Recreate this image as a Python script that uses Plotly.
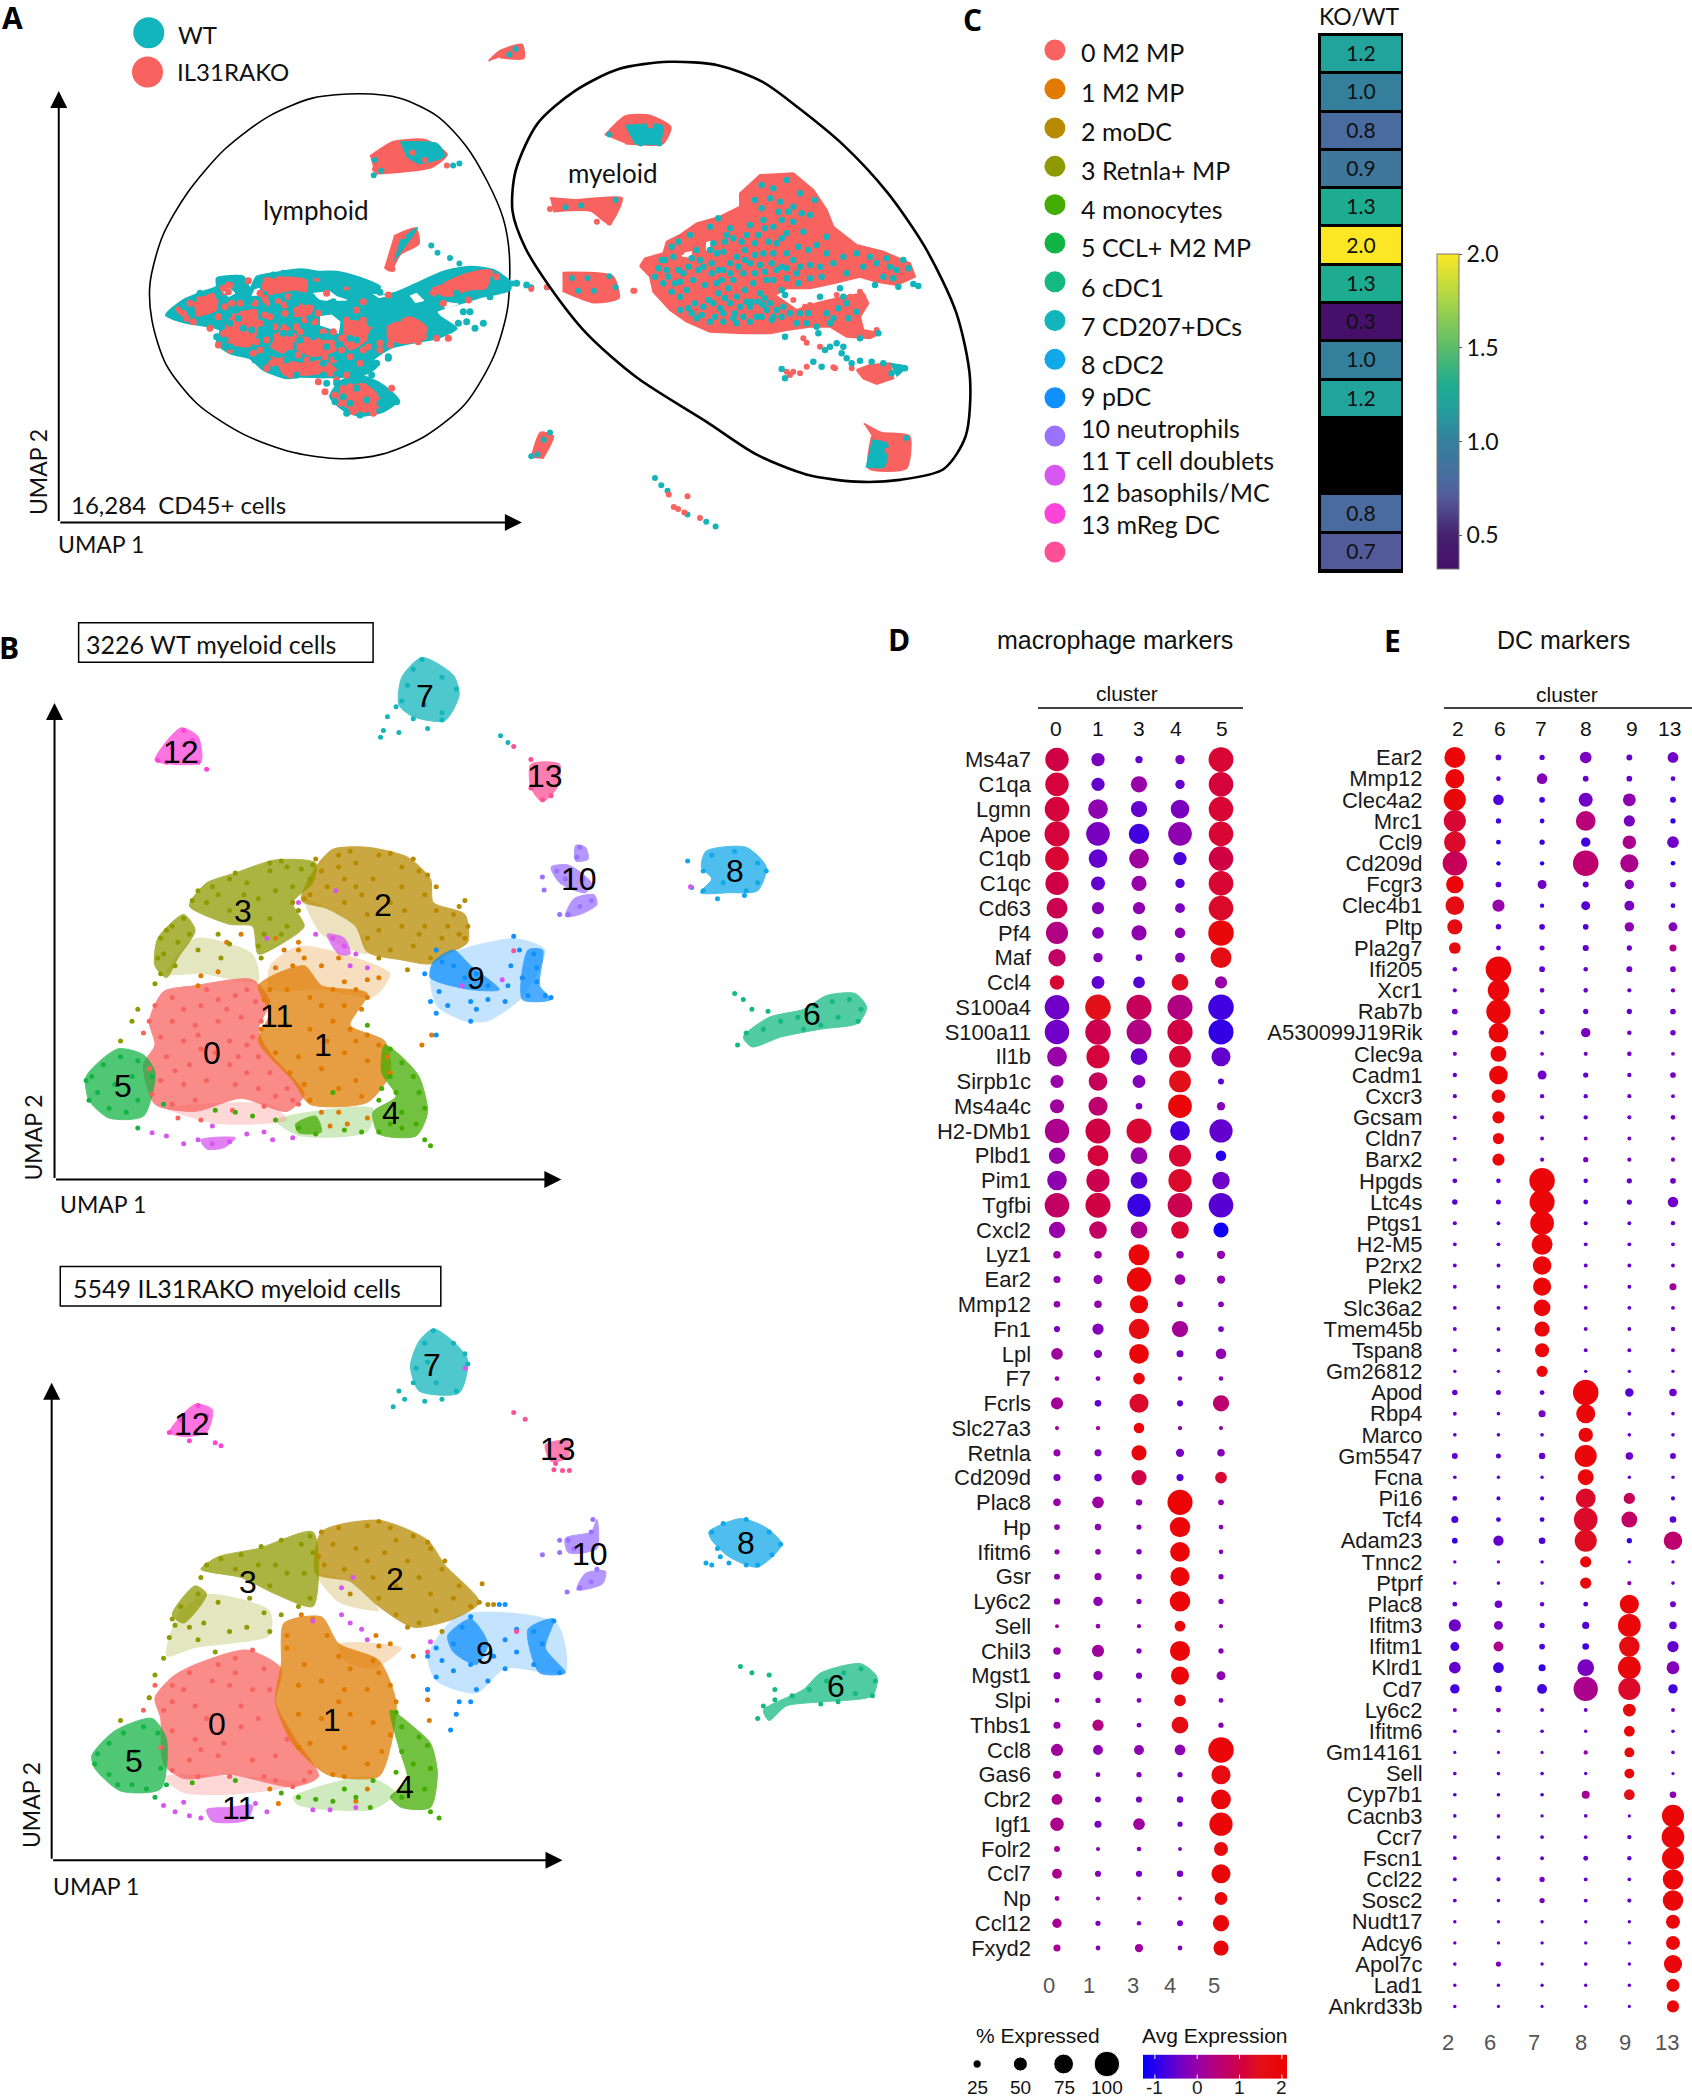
import plotly.graph_objects as go

W, H = 1692, 2100
LIB = "Liberation Sans"
LAT = "Lato"

def split(pairs):
    return [p[0] for p in pairs], [p[1] for p in pairs]

# ---------- Panel A (UMAP, read units) ----------
lymphoid_ring = [(575,258),(640,270),(700,320),(745,400),(780,500),(805,600),(815,700),(812,850),(790,980),(745,1110),(680,1200),(610,1250),(545,1262),(470,1245),(390,1195),(315,1110),(265,1000),(243,880),(240,780),(260,650),(300,530),(360,410),(430,320),(500,270),(575,258)]
myeloid_ring = [(1070,170),(1150,180),(1220,225),(1280,300),(1350,400),(1420,530),(1480,680),(1530,860),(1552,1040),(1545,1200),(1510,1290),(1440,1320),(1370,1325),(1290,1305),(1210,1250),(1130,1160),(1020,1040),(940,920),(880,790),(840,680),(820,580),(825,470),(860,340),(920,250),(990,190),(1070,170)]
ko_regions = [(592,430),(630,390),(680,385),(715,425),(690,460),(600,478),(None,None),
 (782,168),(800,140),(835,123),(838,160),(800,158),(None,None),
 (968,372),(1000,320),(1040,318),(1073,350),(1060,395),(1000,395),(None,None),
 (880,545),(920,550),(995,545),(975,615),(945,580),(885,582),(None,None),
 (900,750),(980,760),(990,820),(950,832),(900,800),(None,None),
 (850,1260),(865,1190),(885,1200),(868,1262),(None,None),
 (1382,1165),(1410,1190),(1455,1200),(1450,1288),(1390,1288),(1395,1200),(None,None),
 (630,650),(665,628),(670,670),(640,700),(625,745),(615,735)]
wt_regions = [(640,390),(700,395),(712,430),(670,450),(650,430),(None,None),
 (1000,345),(1060,345),(1055,395),(1015,395),(None,None),
 (1395,1210),(1420,1220),(1415,1285),(1385,1285),(None,None),
 (640,660),(668,625),(660,650),(630,720)]
wt_cells = [(700,695),(720,710),(735,725),(690,675),(820,780),(850,790),(875,790),(1048,1315),(1058,1335),(1068,1350),(1130,1435),(1145,1448),(1100,1415),(815,150),(825,135),(905,570),(930,565),(985,550),(940,765),(975,760),(985,790),(860,1250),(870,1210),(1450,1205),(600,440),(610,470),(598,482),(735,450),(725,455),(915,765),(925,800),(950,800),(1030,360),(975,370),(1025,395),(1055,395),(880,1190),(850,1255)]
ko_cells = [(1085,1400),(1100,1365),(1078,1395),(1095,1410),(1070,1360),(1120,1425),(1015,800),(875,790),(850,795),(955,610),(975,612),(628,740),(645,650),(715,455),(600,465),(880,575),(620,440),(660,420),(680,440),(1040,345),(990,350),(1420,1240),(1440,1265),(1400,1200)]

lymph_body = [(48,165),(100,120),(160,95),(200,80),(200,55),(280,50),(300,85),(320,50),(380,38),(450,28),(510,35),(560,35),(620,50),(690,80),(680,105),(730,100),(790,75),(880,35),(960,20),(1030,30),(1080,65),(1080,90),(990,112),(950,125),(860,155),(870,170),(920,205),(860,235),(780,250),(720,265),(670,300),(680,320),(640,345),(590,350),(520,352),(450,350),(410,355),(340,330),(300,295),(240,280),(200,250),(210,210),(150,195),(115,190),(48,165),(None,None),
 (540,410),(570,365),(620,345),(690,370),(745,420),(700,455),(630,468),(580,450),(540,410)]
lymph_ko_patches = [(225,70),(250,70),(235,100),(215,105),(None,None),(330,55),(400,50),(470,60),(470,95),(430,90),(380,100),(340,90),(None,None),(250,160),(320,150),(320,220),(300,260),(230,250),(210,220),(None,None),(400,190),(440,230),(400,280),(360,260),(None,None),(450,130),(490,140),(480,165),(430,170),(None,None),(360,290),(460,310),(520,300),(560,330),(480,345),(400,345),(None,None),(580,180),(650,190),(650,240),(600,270),(580,250),(None,None),(710,200),(780,170),(830,200),(820,240),(750,250),(710,230),(None,None),(880,70),(950,40),(1020,30),(1010,85),(960,90),(890,110),(860,100),(None,None),(570,390),(640,370),(680,400),(690,440),(620,460),(560,420),(None,None),(130,130),(190,100),(200,150),(140,170),(None,None),(440,230),(530,240),(560,270),(490,290),(440,270)]
lymph_holes = [(490,100),(540,95),(560,110),(590,120),(540,122),(505,118),(None,None),(510,170),(545,165),(570,185),(565,220),(540,205),(510,195),(None,None),(670,103),(715,107),(685,113),(None,None),(780,108),(800,100),(822,122),(795,128),(None,None),(312,90),(328,85),(328,106),(305,106),(None,None),(215,92),(238,85),(255,100),(235,110),(None,None),(875,125),(925,132),(885,147)]
lymph_ko_cells = [(120,130),(150,115),(175,125),(85,150),(110,175),(130,185),(180,205),(165,150),(205,170),(235,75),(295,62),(330,100),(345,115),(362,95),(385,125),(415,110),(445,72),(500,55),(530,100),(590,90),(640,125),(620,150),(590,180),(550,215),(520,215),(495,185),(505,160),(480,145),(440,150),(405,160),(360,170),(330,190),(300,170),(270,130),(245,130),(205,255),(240,270),(280,240),(310,280),(350,240),(380,230),(420,260),(450,215),(480,250),(510,270),(545,250),(575,270),(600,290),(630,310),(655,260),(690,270),(720,255),(745,235),(760,200),(795,215),(820,230),(860,235),(895,235),(850,100),(880,130),(905,100),(955,120),(1000,70),(1040,50),(975,55),(920,60),(715,105),(620,205),(640,180),(660,210),(505,365),(525,395),(560,360),(590,345),(725,385),(600,400),(640,440),(670,460),(610,455),(570,430),(420,345),(350,325),(470,335),(540,340),(400,300),
 (100,160),(145,145),(195,125),(225,140),(260,205),(255,225),(300,235),(345,165),(320,245),(375,200),(440,200),(465,180),(395,240),(330,270),(365,310),(445,285),(470,300),(525,290),(550,300),(575,235),(610,225),(640,270),(625,215),(690,250),(735,215),(770,225),(780,195),(805,245),(725,240),(900,70),(930,80),(960,75),(990,40),(1010,60),(1020,40),(900,90),(870,85),(855,90),(580,385),(600,380),(650,390),(675,425),(640,410),(600,415),(555,405),(620,440),(420,70),(400,85),(370,75),(345,80),(460,85),(235,95),(220,85),(350,130),(315,130),(405,135)]
lymph_wt_cells = [(70,160),(100,135),(150,100),(210,60),(260,55),(290,105),(330,60),(370,45),(400,40),(500,45),(540,45),(570,60),(600,65),(640,70),(670,80),(690,97),(630,100),(590,100),(550,125),(540,130),(500,125),(465,125),(420,130),(380,140),(340,140),(290,140),(265,175),(240,190),(215,200),(200,230),(225,240),(280,205),(305,210),(340,210),(360,200),(400,220),(370,280),(420,220),(470,200),(490,230),(520,230),(530,260),(560,290),(580,300),(620,290),(655,310),(680,310),(715,295),(600,235),(620,240),(670,215),(700,180),(735,130),(770,100),(820,135),(860,180),(880,195),(900,210),(925,190),(940,155),(960,155),(950,185),(975,205),(1000,190),(1020,110),(1060,85),(1100,70),(1130,75),(1000,100),(920,100),(840,115),(800,80),(700,135),(660,145),(690,160),(620,340),(650,360),(665,345),(715,290),(560,370),(530,370),(520,345),(620,385),(710,410),(740,425),(690,430),(650,420),(600,430),(580,410),(555,425),(590,460),(630,465),(380,330),(330,310),(440,345),(315,300),(240,260),(430,115),(260,150),(300,120),(480,175),(450,240),(410,300),(520,310),(760,120),(780,150),(745,175)]
lymph_wt_patches = [(750,150),(850,165),(915,205),(860,235),(830,190),(780,165),(None,None),(660,120),(720,115),(700,170),(660,160),(None,None),(490,40),(570,40),(610,70),(540,80),(500,65)]

mye_body = [(30,288),(45,265),(100,250),(110,215),(150,195),(200,160),(270,140),(330,110),(330,70),(390,15),(490,10),(550,60),(590,120),(610,170),(680,225),(760,245),(840,280),(855,320),(800,345),(740,335),(690,320),(610,340),(540,355),(470,355),(435,375),(500,420),(560,400),(640,380),(700,370),(715,400),(690,440),(700,480),(750,490),(720,505),(650,500),(600,470),(540,470),(470,480),(420,490),(340,490),(240,485),(170,455),(120,420),(70,365),(60,320),(30,288),(None,None),
 (680,600),(720,585),(780,580),(790,625),(740,642),(700,625),(680,600)]
mye_holes = [(165,248),(185,245),(182,262),(155,258),(None,None),(228,218),(242,214),(238,236),(228,240),(None,None),(490,378),(520,368),(595,358),(600,380),(545,390),(505,398)]
mye_wt_patch = [(780,580),(830,590),(800,620)]
mye_wt_cells = [(125,230),(145,215),(180,195),(130,260),(105,270),(85,295),(75,320),(135,340),(125,365),(150,380),(170,360),(205,300),(175,290),(190,330),(225,345),(245,310),(260,340),(235,390),(185,430),(215,435),(255,440),(280,430),(300,400),(320,380),(345,360),(370,340),(375,310),(410,330),(390,370),(360,410),(340,440),(380,440),(410,420),(440,420),(460,410),(480,430),(500,460),(530,460),(560,470),(600,460),(625,415),(650,400),(680,425),(640,380),(570,380),(465,375),(455,360),(280,245),(250,220),(265,145),(240,170),(310,205),(335,215),(320,260),(345,240),(375,220),(415,215),(440,220),(430,250),(490,270),(510,290),(540,285),(570,290),(505,230),(520,185),(490,155),(400,150),(395,45),(470,30),(420,85),(490,110),(510,70),(555,90),(395,115),(430,170),(360,165),(590,250),(650,310),(720,260),(760,320),(790,325),(820,270),(835,295),(850,342),(865,348),(735,345),(805,350),(630,355),(300,280),(280,300),(340,310),(430,330),(470,325),(505,340),(210,270),(240,240),(465,500),(600,530),(585,540),(620,520),(640,530),(635,550),(650,565),(665,580),(690,572),(725,575),(760,580),(800,595),(825,595),(785,610),(550,575),(575,590),(455,597),(465,625),(745,490),(690,505),(565,490),(365,395),(400,405),(425,450),(310,445),(270,415),
 (95,270),(110,300),(100,340),(115,320),(145,300),(150,335),(160,310),(185,265),(200,240),(220,290),(245,280),(265,300),(275,330),(295,355),(310,330),(300,310),(265,370),(250,400),(220,410),(195,400),(175,415),(150,420),(285,385),(330,410),(315,430),(350,395),(385,395),(405,385),(420,400),(395,440),(360,455),(320,460),(280,455),(240,455),(200,445),(430,440),(455,440),(510,430),(535,430),(590,430),(610,445),(655,445),(405,305),(390,285),(360,280),(325,290),(345,270),(375,255),(400,250),(425,280),(455,290),(470,250),(455,205),(470,190),(385,195),(350,195),(300,175),(285,215),(260,250),(290,195),(405,175),(455,150),(475,125),(515,130),(540,135),(445,125),(430,55),(450,95),(375,90),(535,240),(560,225),(590,200),(610,280),(640,260),(680,250),(700,290),(740,280),(770,265),(800,300),(780,290),(575,320),(540,325),(500,310),(470,295),(440,300)]
mye_ko_cells = [(10,362),(520,505),(530,518),(570,530),(615,595),(610,592),(665,595),(490,605),(510,610),(530,590),(470,605),(480,615),(700,380),(705,395),(690,365),(620,375),(540,405),(525,410),(490,390),(640,410),(660,380),(675,455),(570,435),(740,480)]

# ---------- Panel C ----------
annotation_rows = ["0 M2 MP","1 M2 MP","2 moDC","3 Retnla+ MP","4 monocytes","5 CCL+ M2 MP","6 cDC1","7 CD207+DCs","8 cDC2","9 pDC","10 neutrophils","11 T cell doublets","12 basophils/MC","13 mReg DC"]
ko_wt = [1.2,1.0,0.8,0.9,1.3,2.0,1.3,0.3,1.0,1.2,None,None,0.8,0.7]
cluster_colors = ["#f8635f","#e07b00","#b88a00","#8f9a00","#43ac00","#12b445","#14b982","#12b5bc","#10a8e8","#1090ff","#9a72ff","#d856f0","#fb45d8","#ff4f96"]
legend_dot_y = [133,236,340,442,544,646,749,852,955,1057,1159,1263,1365,1467]
legend_text_y = [139,244,349,453,555,657,763,866,967,1053,1138,1223,1308,1393]

# ---------- Panel B, WT ----------
wt_sparse = {
1:[(470,900),(520,850),(600,870),(680,920),(650,980),(560,960),(470,960),(470,900)],
3:[(290,920),(340,830),(440,870),(450,940),(350,920),(290,920)],
4:[(480,1290),(650,1260),(640,1320),(520,1330),(480,1290)],
9:[(750,900),(800,860),(900,830),(950,860),(910,980),(850,1040),(810,1040),(760,1000),(750,900)],
0:[(290,1260),(470,1250),(500,1290),(380,1300),(290,1260)],
2:[(530,730),(620,800),(640,870),(560,820),(530,730)]}
wt_outline = {
0:[(285,965),(340,950),(440,935),(470,990),(450,1060),(470,1120),(530,1225),(500,1268),(420,1235),(340,1268),(270,1250),(250,1150),(270,1100),(260,1040),(285,965)],
1:[(450,950),(530,900),(560,950),(640,970),(610,1050),(670,1090),(680,1170),(640,1245),(540,1250),(510,1190),(450,1090),(470,1020),(450,950)],
2:[(580,605),(640,600),(710,625),(750,680),(755,740),(810,770),(815,840),(780,870),(750,895),(700,885),(640,865),(620,800),(570,755),(525,735),(550,650),(580,605)],
3:[(335,730),(360,690),(410,665),(480,632),(550,640),(545,690),(510,740),(530,800),(495,840),(450,870),(440,800),(400,795),(330,750),(335,730),(None,None),(275,830),(320,770),(340,810),(310,880),(290,930),(270,900),(275,830)],
4:[(670,1100),(700,1130),(730,1180),(745,1270),(725,1330),(660,1325),(650,1270),(690,1230),(665,1170),(670,1100),(None,None),(515,1300),(550,1280),(560,1320),(520,1322),(515,1300)],
5:[(150,1180),(205,1110),(250,1125),(270,1170),(250,1280),(190,1285),(155,1240),(150,1180)],
6:[(1295,1080),(1340,1030),(1400,1010),(1440,975),(1490,970),(1510,1005),(1495,1045),(1430,1060),(1360,1080),(1310,1105),(1295,1080)],
7:[(735,120),(790,165),(800,215),(775,280),(720,270),(695,240),(700,170),(735,120)],
8:[(1230,610),(1300,600),(1335,650),(1320,710),(1270,715),(1220,715),(1240,680),(1222,650),(1230,610)],
9:[(755,890),(790,860),(820,900),(870,960),(820,960),(750,930),(755,890),(None,None),(920,860),(945,860),(940,950),(960,985),(910,985),(920,860)],
10:[(960,650),(990,645),(1030,690),(1020,715),(975,690),(960,650),(None,None),(985,775),(1000,730),(1035,720),(1040,745),(1010,770),(985,775),(None,None),(1003,595),(1020,600),(1025,630),(1003,635),(1003,595)],
11:[(350,1340),(410,1335),(390,1360),(360,1363),(350,1340),(None,None),(570,820),(600,830),(610,870),(590,870),(570,820)],
12:[(270,380),(315,298),(345,320),(350,385),(300,390),(270,380)],
13:[(925,390),(975,390),(970,450),(945,485),(925,450),(925,390)]}
wt_points = {
0:[(300,980),(320,1010),(350,1000),(380,985),(410,975),(430,960),(300,1040),(340,1050),(380,1040),(420,1030),(280,1080),(320,1090),(350,1110),(400,1090),(430,1100),(290,1130),(330,1150),(400,1150),(430,1170),(280,1190),(320,1200),(360,1190),(410,1200),(450,1210),(480,1230),(300,1250),(340,1240),(260,1040),(250,1070),(310,1285),(350,1290),(405,1265),(510,1240),(270,1000),(360,960),(445,990),(455,1040),(440,1080),(450,1130),(470,1170),(500,1210),(520,1250),(260,1160),(265,1225),(375,1120),(305,1165),(345,1075),(395,1010),(415,1130),(460,1255)],
1:[(480,905),(510,900),(530,880),(495,860),(520,860),(560,900),(590,880),(640,935),(660,930),(620,960),(600,1000),(630,1010),(580,1040),(610,1060),(640,1075),(660,1100),(500,960),(540,980),(470,960),(500,1050),(540,1060),(480,1120),(520,1130),(600,1120),(640,1140),(560,1160),(530,1200),(590,1210),(630,1230),(590,1270),(605,1300),(640,1285),(735,1100),(752,1075),(575,1305),(350,925),(345,950),(380,915),(395,840),(420,820),(480,830),(520,840),(460,985),(560,1000),(580,960),(640,980),(570,1090),(620,1090),(675,1130),(680,1170),(540,1240),(560,1270),(620,1190),(505,1170),(455,1060),(600,940)],
2:[(590,620),(620,640),(660,620),(700,650),(730,660),(600,680),(650,680),(700,700),(740,720),(570,700),(630,720),(680,740),(760,760),(790,770),(810,735),(780,800),(800,820),(740,800),(700,800),(660,810),(640,830),(720,850),(760,860),(680,860),(750,880),(710,910),(660,880),(540,720),(550,630),(730,820),(610,610),(680,615),(720,630),(745,670),(560,660),(590,650),(620,700),(760,700),(800,750),(815,800),(810,830),(770,830),(640,770),(600,740),(530,730),(705,760)],
3:[(345,710),(370,700),(400,680),(430,690),(470,660),(500,650),(525,655),(360,740),(400,760),(450,730),(480,710),(510,700),(470,780),(500,800),(460,820),(450,850),(455,880),(280,830),(300,800),(320,780),(330,820),(285,870),(305,900),(280,920),(270,945),(385,880),(400,845),(380,820),(345,860),(240,1010),(230,1040),(210,1090),(470,640),(520,760),(335,735),(410,665),(490,635),(545,645),(540,680),(425,720),(380,720),(510,740),(490,820),(275,880),(290,810),(310,840)],
4:[(680,1110),(700,1145),(720,1180),(680,1180),(690,1220),(730,1220),(740,1260),(660,1240),(700,1310),(740,1340),(750,1355),(630,1320),(600,1315),(550,1325),(520,1310),(580,1220),(480,1290),(440,1280),(375,1265),(410,1270),(640,1050),(660,1320),(700,1270),(725,1300),(680,1300),(665,1210)],
5:[(160,1180),(180,1150),(210,1130),(240,1140),(170,1220),(200,1200),(230,1180),(190,1260),(220,1270),(240,1240),(265,1180),(155,1240),(240,1310),(285,1250),(150,1190)],
6:[(1280,970),(1295,985),(1310,1010),(1338,1015),(1285,1100),(1300,1070),(1330,1060),(1360,1040),(1390,1030),(1420,1000),(1450,990),(1480,985),(1500,1010),(1460,1030),(1430,1050),(1495,1040),(1400,1060)],
7:[(735,125),(720,150),(770,170),(795,200),(710,190),(700,230),(740,240),(770,260),(690,245),(675,270),(668,305),(663,322),(695,310),(745,300),(770,278),(720,275),(872,318),(885,335)],
8:[(1198,635),(1240,620),(1280,610),(1320,640),(1335,660),(1225,660),(1260,690),(1300,710),(1320,690),(1225,710),(1205,702),(1250,730),(1297,722)],
9:[(895,825),(905,860),(760,860),(770,890),(740,920),(790,900),(810,930),(830,920),(850,950),(890,900),(885,950),(910,930),(930,870),(935,905),(935,940),(920,975),(950,975),(960,980),(765,965),(750,990),(760,1020),(780,1000),(820,990),(850,985),(830,1010),(820,1040),(760,1075),(880,990)],
10:[(1010,600),(1005,625),(970,660),(985,680),(1015,680),(990,770),(1010,750),(1030,735),(975,770),(948,708),(945,675)],
11:[(265,1322),(290,1330),(320,1350),(345,1340),(370,1350),(400,1345),(430,1325),(460,1320),(475,1340),(510,1335),(370,1305),(580,830),(600,850),(620,870),(640,905),(610,900),(550,820),(520,740),(585,710),(465,830),(805,950),(875,935),(1203,700)],
12:[(320,305),(300,350),(275,380),(335,330),(345,385),(360,403),(290,385)],
13:[(925,378),(895,345),(945,480),(925,450),(960,470),(895,862)]}
wt_labels = [(370,1120),(562,1100),(667,745),(423,760),(682,1272),(215,1205),(1415,1022),(741,218),(1280,660),(829,930),(1008,680),(481,1027),(315,360),(950,420)]

# ---------- Panel B, KO ----------
ko_sparse = {
1:[(590,950),(700,960),(650,1010),(600,990),(590,950)],
3:[(290,980),(310,880),(360,830),(470,870),(470,930),(400,950),(340,960),(290,980)],
9:[(745,980),(800,880),(970,900),(985,1020),(880,1010),(830,1070),(760,1040),(745,980)],
4:[(510,1320),(640,1270),(690,1310),(650,1350),(520,1340),(510,1320)],
0:[(285,1270),(530,1285),(440,1310),(320,1310),(285,1270)],
2:[(550,780),(620,810),(660,870),(590,850),(550,780)]}
ko_outline = {
0:[(270,1080),(300,1030),(340,1000),(430,965),(490,1010),(480,1090),(510,1170),(555,1270),(510,1295),(400,1265),(320,1275),(285,1240),(280,1130),(270,1080)],
1:[(495,900),(560,885),(590,950),(660,990),(690,1090),(680,1200),(660,1270),(570,1265),(510,1190),(480,1090),(490,1000),(495,900)],
2:[(560,680),(660,652),(745,700),(775,760),(835,850),(790,890),(720,910),(660,860),(610,800),(550,780),(560,680)],
3:[(350,770),(380,740),(450,720),(545,680),(555,770),(545,860),(480,830),(420,790),(350,770),(None,None),(300,880),(340,810),(360,830),(320,900),(300,880)],
4:[(680,1110),(720,1150),(750,1190),(762,1260),(750,1345),(700,1345),(680,1320),(710,1280),(695,1200),(680,1110)],
5:[(160,1220),(200,1160),(265,1130),(290,1180),(280,1300),(210,1305),(165,1250),(160,1220)],
6:[(1330,1110),(1400,1060),(1430,1020),(1500,998),(1528,1030),(1520,1075),(1430,1090),(1370,1100),(1340,1135),(1330,1110)],
7:[(755,190),(785,215),(815,265),(800,345),(730,340),(715,280),(730,220),(755,190)],
8:[(1235,680),(1290,648),(1335,670),(1362,710),(1320,765),(1270,740),(1240,700),(1235,680)],
9:[(780,930),(820,890),(850,950),(830,1000),(790,970),(780,930),(None,None),(920,915),(965,890),(950,960),(985,1020),(940,1020),(920,915)],
10:[(1030,680),(1040,650),(1040,720),(990,730),(985,695),(1030,680),(None,None),(1005,820),(1020,780),(1055,775),(1050,805),(1005,820)],
11:[(360,1350),(400,1345),(440,1340),(430,1375),(370,1378),(360,1350)],
12:[(295,440),(340,372),(370,385),(360,440),(320,450),(295,440)],
13:[(950,470),(990,460),(990,500),(960,510),(950,470)]}
ko_points = {
0:[(440,965),(410,985),(380,1000),(330,1020),(300,1050),(270,1050),(260,1080),(250,1110),(300,1090),(340,1100),(400,1050),(440,1060),(460,1010),(450,1130),(420,1150),(340,1180),(300,1160),(330,1230),(380,1220),(440,1230),(480,1220),(530,1280),(510,1295),(300,1255),(345,1270),(400,1270),(460,1270),(420,1100),(285,1110),(320,1060),(370,1040),(410,1020),(360,1130),(390,1190),(470,1060),(500,1180),(540,1260),(280,1200),(350,1205),(480,1280)],
1:[(525,880),(545,890),(500,930),(570,930),(590,980),(610,1010),(650,990),(660,1020),(680,1050),(690,1090),(640,1060),(600,1060),(560,1040),(520,1050),(610,1120),(560,1130),(520,1120),(650,1140),(600,1200),(540,1190),(640,1240),(600,1270),(580,1265),(720,980),(745,1060),(745,1085),(748,1135),(660,955),(640,1300),(655,930),(680,950),(620,1330),(485,1335),(470,1300),(500,960),(530,1000),(590,1090),(680,1170),(665,1210),(520,1200)],
2:[(590,670),(640,665),(680,670),(720,690),(750,720),(580,710),(620,720),(670,730),(710,750),(565,760),(600,770),(650,790),(690,810),(730,790),(770,770),(800,810),(820,860),(790,840),(840,805),(760,870),(730,900),(690,880),(750,830),(660,840),(610,830),(850,855),(860,855),(770,920),(710,910),(560,680),(660,655),(745,705),(775,750),(835,850),(555,740),(690,700),(640,750)],
3:[(360,760),(385,745),(420,735),(455,715),(490,700),(540,690),(525,710),(450,760),(500,780),(530,780),(470,810),(540,840),(490,880),(460,875),(430,910),(400,920),(470,920),(435,840),(380,850),(345,830),(315,860),(305,905),(330,910),(295,935),(285,985),(345,940),(375,970),(355,900),(270,1025),(260,1080),(210,1135),(520,860),(350,790),(410,770),(480,760),(545,730),(300,890)],
4:[(690,1115),(700,1150),(730,1175),(745,1195),(700,1210),(720,1240),(690,1260),(750,1250),(740,1300),(700,1320),(765,1370),(750,1355),(645,1345),(620,1320),(580,1330),(550,1325),(520,1320),(490,1310),(650,1280),(600,1300),(410,1280),(335,1285)],
5:[(170,1215),(190,1190),(215,1165),(250,1150),(275,1165),(165,1240),(190,1265),(205,1290),(230,1290),(255,1300),(270,1320),(290,1290),(235,1210),(280,1250)],
6:[(1290,1005),(1310,1020),(1340,1025),(1350,1060),(1330,1100),(1320,1130),(1350,1085),(1380,1075),(1410,1060),(1440,1040),(1470,1020),(1500,1010),(1525,1040),(1520,1075),(1490,1070),(1430,1095),(1460,1090)],
7:[(755,195),(740,225),(790,225),(810,250),(815,275),(725,285),(720,320),(695,340),(685,378),(705,360),(740,365),(770,360),(795,340),(760,320),(745,270)],
8:[(1240,680),(1260,660),(1300,650),(1340,680),(1360,710),(1345,735),(1320,760),(1300,760),(1270,755),(1240,760),(1230,755),(1250,720),(1255,740)],
9:[(820,885),(805,910),(790,950),(760,960),(745,980),(770,990),(790,1015),(760,1030),(745,1060),(820,1000),(860,980),(900,970),(880,1010),(880,940),(900,915),(930,920),(965,895),(945,950),(930,1000),(975,1020),(850,1040),(830,1060),(800,1090),(795,1120),(785,1158),(870,855),(880,855),(820,1090)],
10:[(1033,650),(1030,680),(990,700),(975,730),(1000,720),(1040,770),(1030,800),(1010,815),(988,825),(945,735),(975,700)],
11:[(285,1340),(305,1355),(330,1365),(350,1370),(320,1332),(445,1335),(465,1355),(545,1350),(575,1350),(620,1345),(595,880),(610,900),(630,915),(640,940),(615,790),(595,815),(545,895),(750,945),(810,285)],
12:[(345,375),(315,410),(295,440),(360,400),(375,465),(385,472),(330,460)],
13:[(895,392),(915,408),(965,530),(980,532),(992,532),(968,515),(900,920),(745,970)]}
ko_labels = [(378,1143),(579,1133),(689,793),(432,800),(706,1295),(233,1232),(1456,1052),(753,278),(1300,707),(845,973),(1028,733),(415,1345),(335,420),(972,480)]

# ---------- Panel D ----------
d_clusters = ["0","1","3","4","5"]
d_genes = ["Ms4a7","C1qa","Lgmn","Apoe","C1qb","C1qc","Cd63","Pf4","Maf","Ccl4","S100a4","S100a11","Il1b","Sirpb1c","Ms4a4c","H2-DMb1","Plbd1","Pim1","Tgfbi","Cxcl2","Lyz1","Ear2","Mmp12","Fn1","Lpl","F7","Fcrls","Slc27a3","Retnla","Cd209d","Plac8","Hp","Ifitm6","Gsr","Ly6c2","Sell","Chil3","Mgst1","Slpi","Thbs1","Ccl8","Gas6","Cbr2","Igf1","Folr2","Ccl7","Np","Ccl12","Fxyd2"]
d_pct = [[91,47,21,30,97],[91,47,60,30,96],[96,75,60,70,96],[98,92,78,92,96],[92,70,75,47,96],[90,50,55,30,96],[80,42,42,32,96],[85,40,55,35,100],[65,30,18,32,80],[52,45,40,62,42],
[96,100,98,98,100],[96,100,97,99,98],[75,90,62,84,72],[46,70,45,84,15],[50,72,18,92,25],[95,98,98,75,90],[60,80,62,85,35],[74,90,62,90,65],[96,98,90,96,96],[60,66,62,66,55],
[22,22,80,22,25],[20,28,95,35,25],[18,22,68,15,14],[16,38,78,60,14],[40,25,75,20,35],[10,10,40,9,9],[42,18,72,16,60],[7,8,35,8,7],[20,20,55,25,22],[20,22,55,20,40],
[22,40,17,98,14],[14,18,12,78,10],[12,14,13,75,9],[15,20,14,72,12],[17,30,12,78,12],[6,9,7,36,7],[22,42,12,76,12],[20,30,16,68,28],[10,12,10,40,10],[20,38,10,62,12],
[42,32,32,36,100],[24,10,12,12,72],[36,15,16,17,75],[48,20,40,12,90],[15,7,9,6,50],[32,16,16,17,72],[10,7,6,6,45],[30,12,9,15,60],[20,10,25,10,55]]
d_expr = [[1.0,-.3,-.5,-.3,1.2],[1.1,-.5,0,-.5,1.1],[1.1,-.1,-.5,-.3,1.2],[1.1,-.3,-.8,-.1,1.2],[1.2,-.5,.1,-.7,1.0],[1.0,-.5,0,-.6,1.2],[.9,-.2,-.1,-.3,1.3],[.4,-.2,-.1,-.1,1.8],[.7,-.2,-.4,-.2,1.6],[1.2,-.5,-.6,1.4,0],
[-.4,1.5,.8,.4,-.8],[-.4,.9,.4,1.0,-.9],[0,1.1,-.5,1.2,-.5],[0,.8,-.2,1.5,-.6],[.1,.6,-.3,1.9,-.2],[.3,1.0,1.2,-.8,-.5],[0,1.1,0,1.2,-1.0],[-.1,.9,-.6,1.3,-.4],[.7,1.0,-.85,.9,-.6],[0,.7,.3,1.2,-1.15],
[0,0,1.9,-.1,-.1],[-.1,-.1,1.9,0,-.1],[-.1,-.05,1.9,-.2,-.2],[-.3,-.2,1.6,.2,-.3],[.1,-.2,1.9,-.3,-.1],[0,-.2,1.9,-.2,-.2],[.2,-.5,1.3,-.5,.6],[.2,.1,1.9,-.1,-.1],[-.05,-.2,1.8,-.3,-.2],[-.3,-.4,1.0,-.6,1.2],
[0,.1,-.1,2,-.1],[-.1,-.1,-.2,1.9,-.2],[-.1,-.1,-.2,1.9,-.2],[-.1,-.1,-.2,1.9,-.2],[-.1,-.1,-.2,1.9,-.2],[.1,-.1,-.1,1.9,-.1],[0,.1,-.2,1.9,-.2],[-.2,-.1,-.3,1.9,-.1],[-.1,-.1,-.2,1.7,-.2],[0,.4,-.2,1.6,-.2],
[.1,-.1,-.1,-.1,1.9],[.2,-.2,-.2,-.3,1.7],[.3,-.3,-.3,-.4,1.8],[.3,-.3,.1,-.4,1.9],[.2,-.2,-.2,-.2,1.7],[.3,-.2,-.3,-.3,1.8],[.1,-.1,-.1,-.1,1.8],[.2,-.2,-.2,-.3,1.8],[.2,-.2,.1,-.2,1.8]]

# ---------- Panel E ----------
e_clusters = ["2","6","7","8","9","13"]
e_genes = ["Ear2","Mmp12","Clec4a2","Mrc1","Ccl9","Cd209d","Fcgr3","Clec4b1","Pltp","Pla2g7","Ifi205","Xcr1","Rab7b","A530099J19Rik","Clec9a","Cadm1","Cxcr3","Gcsam","Cldn7","Barx2","Hpgds","Ltc4s","Ptgs1","H2-M5","P2rx2","Plek2","Slc36a2","Tmem45b","Tspan8","Gm26812","Apod","Rbp4","Marco","Gm5547","Fcna","Pi16","Tcf4","Adam23","Tnnc2","Ptprf","Plac8","Ifitm3","Ifitm1","Klrd1","Cd7","Ly6c2","Ifitm6","Gm14161","Sell","Cyp7b1","Cacnb3","Ccr7","Fscn1","Ccl22","Sosc2","Nudt17","Adcy6","Apol7c","Lad1","Ankrd33b"]
e_pct = [[80,14,12,40,15,36],[72,9,35,14,14,10],[85,35,14,50,45,15],[85,12,10,75,38,12],[82,10,12,30,48,40],[95,8,8,100,68,9],[65,14,28,15,30,14],[70,42,8,28,32,10],[55,13,14,14,30,28],[40,10,11,16,12,20],
[9,100,14,9,15,14],[7,82,9,9,7,8],[14,95,12,12,12,14],[12,75,7,30,9,13],[7,58,6,7,9,6],[8,70,28,12,8,14],[7,48,8,8,7,6],[6,42,7,8,7,9],[5,38,6,6,6,6],[6,42,7,12,7,7],
[10,9,100,9,12,14],[13,11,98,10,12,35],[7,6,92,7,6,8],[6,6,80,6,6,6],[6,6,70,6,6,6],[6,6,68,6,6,20],[6,6,62,6,6,6],[6,6,55,6,6,8],[6,6,50,6,6,6],[4,4,38,4,4,4],
[13,11,10,100,26,22],[6,5,20,72,6,5],[5,5,5,52,5,5],[15,11,17,85,22,15],[5,4,4,58,4,4],[10,7,7,75,38,7],[20,10,10,92,58,18],[14,34,18,85,12,70],[4,4,4,38,4,4],[5,5,5,38,8,5],
[10,22,8,10,72,15],[42,28,12,20,88,22],[28,32,14,18,78,38],[40,36,20,62,88,45],[30,18,32,95,85,30],[7,10,6,6,45,6],[5,5,5,4,36,5],[3,3,3,8,32,5],[5,5,5,4,32,3],[5,5,5,24,36,18],
[5,5,4,5,3,85],[6,5,6,6,8,88],[6,6,6,10,8,85],[6,7,12,6,5,78],[6,5,12,6,7,78],[4,4,4,4,4,50],[4,4,4,4,4,50],[5,12,4,5,4,68],[4,4,4,4,4,46],[4,3,3,3,3,42]]
e_expr = [[1.9,-.6,-.6,-.3,-.5,-.4],[1.9,-.6,-.2,-.5,-.5,-.5],[1.8,-.7,-.8,-.4,-.1,-.7],[1.2,-.8,-.8,.5,-.3,-.9],[1.3,-.9,-.8,-.8,.3,-.4],[.8,-1.1,-1.1,.6,.3,-1.1],[1.9,-.6,-.4,-.6,-.2,-.5],[1.6,0,-.8,-.6,-.3,-.7],[1.7,-.6,-.6,-.7,-.1,-.2],[1.7,-.5,-.5,-.5,-.4,.4],
[-.4,1.9,-.5,-.5,-.4,-.3],[-.4,1.9,-.5,-.5,-.5,-.3],[-.4,1.9,-.5,-.5,-.5,-.4],[-.5,1.9,-.5,-.3,-.4,-.4],[-.3,1.9,-.3,-.3,-.3,-.3],[-.5,1.9,-.4,-.5,-.4,-.3],[-.5,1.8,-.4,-.5,-.4,-.4],[-.4,1.9,-.5,-.5,-.4,-.4],[-.4,1.9,-.4,-.4,-.4,-.3],[-.4,1.9,-.3,-.3,-.4,-.3],
[-.5,-.6,1.9,-.6,-.5,-.4],[-.6,-.6,1.9,-.6,-.5,-.4],[-.5,-.6,1.9,-.6,-.5,-.5],[-.5,-.5,1.9,-.5,-.5,-.5],[-.5,-.5,1.9,-.5,-.5,-.5],[-.5,-.5,1.9,-.5,-.5,.1],[-.5,-.5,1.9,-.5,-.5,-.5],[-.5,-.5,1.9,-.5,-.5,-.4],[-.5,-.5,1.9,-.5,-.5,-.5],[-.5,-.5,1.9,-.5,-.5,-.5],
[-.5,-.5,-.5,1.9,-.6,-.4],[-.5,-.5,-.3,1.9,-.5,-.5],[-.5,-.5,-.5,1.9,-.5,-.5],[-.5,-.5,-.5,1.9,-.4,-.5],[-.5,-.5,-.5,1.9,-.5,-.5],[-.6,-.6,-.6,1.3,.8,-.7],[-.7,-.7,-.7,1.3,.7,-.6],[-.9,-.5,-.7,1.4,-.9,.6],[-.5,-.3,-.5,1.9,-.5,-.5],[-.5,-.5,-.5,1.8,-.1,-.5],
[-.5,-.4,-.5,-.6,1.9,-.4],[-.4,-.3,-.6,-.6,1.9,-.5],[-.7,.3,-.7,-.8,1.7,-.5],[-.5,-.8,-.9,-.3,1.8,-.2],[-.8,-.8,-.8,.3,1.3,-.8],[-.4,-.3,-.5,-.5,1.8,-.5],[-.5,-.5,-.5,-.5,1.9,-.5],[-.5,-.5,-.5,0,1.8,-.4],[-.5,-.5,-.5,-.5,1.8,-.5],[-.7,-.7,-.8,.2,1.5,-.1],
[-.5,-.5,-.5,-.5,-.5,1.9],[-.5,-.5,-.5,-.5,-.5,1.9],[-.5,-.5,-.5,-.5,-.5,1.9],[-.5,-.5,-.3,-.5,-.5,1.9],[-.5,-.5,-.3,-.5,-.5,1.9],[-.5,-.5,-.5,-.5,-.5,1.9],[-.5,-.5,-.5,-.5,-.5,1.9],[-.5,-.2,-.5,-.5,-.5,1.9],[-.5,-.5,-.5,-.5,-.5,1.9],[-.5,-.5,-.5,-.5,-.5,1.9]]

pct_legend = [25,50,75,100]
expr_ticks = [-1,0,1,2]
expr_tick_text = ["-1","0","1","2"]

# ---------- helpers ----------
def dom_x(a, b): return [a/W, b/W]
def dom_y(a, b): return [1-b/H, 1-a/H]
def size_of(p): return 2.5 + 0.23*p

EXPR_MIN, EXPR_MAX = -1.28, 2.12
expr_stops = [(-1.28,"#0000ff"),(-.8,"#4000e0"),(-.4,"#7000c8"),(0,"#9800a8"),(.5,"#b80078"),(1.0,"#d00045"),(1.5,"#e21018"),(2.12,"#ee0000")]
expr_scale = [[(v-EXPR_MIN)/(EXPR_MAX-EXPR_MIN), c] for v,c in expr_stops]
ratio_stops = [(.32,"#46106a"),(.5,"#45206f"),(.7,"#535a9a"),(.8,"#4a6ba0"),(.9,"#3f769c"),(1.0,"#34809c"),(1.2,"#22a39c"),(1.3,"#1eac90"),(1.5,"#5bbb6a"),(1.75,"#a8d548"),(2.0,"#fde725")]
ratio_scale = [[(v-.32)/(2-.32), c] for v,c in ratio_stops]

fig = go.Figure()
annos, shapes = [], []

def blank(x, y, xr=None, yr=None):
    ax = dict(domain=x, visible=False, fixedrange=True, showgrid=False, zeroline=False)
    ay = dict(domain=y, visible=False, fixedrange=True, showgrid=False, zeroline=False)
    if xr: ax["range"] = xr
    if yr: ay["range"] = yr
    return ax, ay

def txt(xa, ya, x, y, t, size=22, font=LAT, color="#111", anchor="center", angle=0, bold=False):
    annos.append(dict(xref=xa, yref=ya, x=x, y=y, text=("<b>%s</b>"%t if bold else t), showarrow=False,
        font=dict(family=font, size=size, color=color), xanchor=anchor, yanchor="middle", textangle=angle))

def arrow(xa, ya, x0, y0, x1, y1):
    annos.append(dict(xref=xa, yref=ya, axref=xa, ayref=ya, x=x1, y=y1, ax=x0, ay=y0, text="", showarrow=True,
        arrowhead=2, arrowsize=1.7, arrowwidth=2, arrowcolor="black"))

R = [0, 1568]; RY = [1568, 0]
layout = {}
layout["xaxis"], layout["yaxis"] = blank(dom_x(0,980), dom_y(0,570), R, RY)
layout["xaxis2"], layout["yaxis2"] = blank(dom_x(980,1692), dom_y(0,590), R, RY)
layout["xaxis4"], layout["yaxis4"] = blank(dom_x(0,900), dom_y(610,1230), R, RY)
layout["xaxis5"], layout["yaxis5"] = blank(dom_x(0,900), dom_y(1250,1900), R, RY)
layout["xaxis9"], layout["yaxis9"] = blank(dom_x(150,530), dom_y(260,430), [0,1140], [510,0])
layout["xaxis10"], layout["yaxis10"] = blank(dom_x(630,930), dom_y(170,400), [0,900], [690,0])

KO_C, WT_C = "#f8635f", "#12b5bc"
def poly(pairs, col, xa, ya, lw=2, smooth=True):
    x,y = split(pairs)
    fig.add_trace(go.Scatter(x=x,y=y,mode="lines",fill="toself",fillcolor=col,
        line=dict(color=col,width=lw,shape="spline" if smooth else "linear",smoothing=.6),xaxis=xa,yaxis=ya,hoverinfo="skip"))
def pts(pairs, col, xa, ya, size):
    x,y = split(pairs)
    fig.add_trace(go.Scatter(x=x,y=y,mode="markers",marker=dict(size=size,color=col,opacity=1),xaxis=xa,yaxis=ya,hoverinfo="skip"))

# Panel A
poly(lymph_body,WT_C,"x9","y9")
poly(lymph_ko_patches,KO_C,"x9","y9",1)
poly(lymph_wt_patches,WT_C,"x9","y9",1)
poly(lymph_holes,"white","x9","y9",1,False)
pts(lymph_ko_cells,KO_C,"x9","y9",7)
pts(lymph_wt_cells,WT_C,"x9","y9",7)
poly(mye_body,KO_C,"x10","y10",2,False)
poly(mye_wt_patch,WT_C,"x10","y10",1)
poly(mye_holes,"white","x10","y10",1,False)
pts(mye_ko_cells,KO_C,"x10","y10",6)
pts(mye_wt_cells,WT_C,"x10","y10",6.5)
poly(ko_regions,KO_C,"x","y")
poly(wt_regions,WT_C,"x","y",1)
pts(wt_cells,WT_C,"x","y",6)
pts(ko_cells,KO_C,"x","y",6)
for ring,w in ((lymphoid_ring,1.6),(myeloid_ring,2.6)):
    x,y = split(ring)
    fig.add_trace(go.Scatter(x=x,y=y,mode="lines",line=dict(color="black",width=w,shape="spline",smoothing=0.8),xaxis="x",yaxis="y",hoverinfo="skip"))
fig.add_trace(go.Scatter(x=[238,236],y=[90,198],mode="markers",marker=dict(size=31,color=[WT_C,KO_C],opacity=1),xaxis="x",yaxis="y",hoverinfo="skip"))
txt("x","y",282,95,"WT",24,anchor="left")
txt("x","y",280,198,"IL31RAKO",24,anchor="left")
txt("x","y",505,577,"lymphoid",26)
txt("x","y",980,477,"myeloid",26)
txt("x","y",110,1388,"16,284  CD45+ cells",24,anchor="left")
txt("x","y",162,1497,"UMAP 1",23)
txt("x","y",60,1300,"UMAP 2",23,angle=-90)
arrow("x","y",94,1437,94,250); arrow("x","y",94,1437,835,1437)

# Panel C
fig.add_trace(go.Scatter(x=[165]*14,y=legend_dot_y,mode="markers",marker=dict(size=21,color=cluster_colors,opacity=1),xaxis="x2",yaxis="y2",hoverinfo="skip"))
for t,yy in zip(annotation_rows,legend_text_y):
    txt("x2","y2",218,yy,t,25,anchor="left")
layout["xaxis3"] = dict(domain=dom_x(1321,1401),visible=False,fixedrange=True)
layout["yaxis3"] = dict(domain=dom_y(35,571),visible=False,fixedrange=True,autorange="reversed")
shapes.append(dict(type="rect",xref="paper",yref="paper",x0=1318/W,x1=1403/W,y0=1-573/H,y1=1-33/H,fillcolor="black",line=dict(width=0),layer="below"))
fig.add_trace(go.Heatmap(z=[[v] for v in ko_wt],y=list(range(14)),x=[0],xaxis="x3",yaxis="y3",
    text=[["" if v is None else "%.1f"%v] for v in ko_wt],texttemplate="%{text}",textfont=dict(family=LAT,size=21,color="#111"),
    colorscale=ratio_scale,zmin=.32,zmax=2,ygap=3,hoverinfo="skip",
    colorbar=dict(x=1437/W,xanchor="left",y=1-569/H,yanchor="bottom",len=315/H,lenmode="fraction",thickness=22,thicknessmode="pixels",
        tickvals=[.5,1,1.5,2],ticktext=["0.5","1.0","1.5","2.0"],tickfont=dict(family=LAT,size=23,color="#111"),outlinecolor="#777",outlinewidth=1,
        ticks="outside",ticklen=3,tickcolor="#555",xpad=0,ypad=0)))
txt("x2","y2",835,42,"KO/WT",23)

# Panel B
def umap(xa, ya, sparse, outline, points, labels):
    for k,p in sparse.items():
        col = cluster_colors[k]
        x,y = split(p)
        fig.add_trace(go.Scatter(x=x,y=y,mode="lines",fill="toself",fillcolor=col,opacity=.25,
            line=dict(color=col,width=0,shape="spline",smoothing=.7),xaxis=xa,yaxis=ya,hoverinfo="skip"))
    for k in range(14):
        col = cluster_colors[k]
        x,y = split(outline[k])
        fig.add_trace(go.Scatter(x=x,y=y,mode="lines",fill="toself",fillcolor=col,opacity=.74,
            line=dict(color=col,width=1,shape="spline",smoothing=.7),xaxis=xa,yaxis=ya,hoverinfo="skip"))
    for k in range(14):
        x,y = split(points[k])
        fig.add_trace(go.Scatter(x=x,y=y,mode="markers",marker=dict(size=5,color=cluster_colors[k],opacity=1),xaxis=xa,yaxis=ya,hoverinfo="skip"))
    for k,(lx,ly) in enumerate(labels):
        txt(xa,ya,lx,ly,str(k),32,font=LIB,color="black")

umap("x4","y4",wt_sparse,wt_outline,wt_points,wt_labels)
umap("x5","y5",ko_sparse,ko_outline,ko_points,ko_labels)
shapes.append(dict(type="rect",xref="x4",yref="y4",x0=137,x1=650,y0=32,y1=132,line=dict(color="black",width=1.5)))
shapes.append(dict(type="rect",xref="x5",yref="y5",x0=105,x1=768,y0=40,y1=135,line=dict(color="black",width=1.5)))
txt("x4","y4",146,87,"3226 WT myeloid cells",25,anchor="left")
txt("x5","y5",124,92,"5549 IL31RAKO myeloid cells",25,anchor="left")
arrow("x4","y4",95,1440,95,235); arrow("x4","y4",95,1440,978,1440)
arrow("x5","y5",90,1472,90,320); arrow("x5","y5",90,1472,980,1472)
txt("x4","y4",180,1503,"UMAP 1",23); txt("x4","y4",57,1335,"UMAP 2",23,angle=-90)
txt("x5","y5",168,1535,"UMAP 1",23); txt("x5","y5",55,1340,"UMAP 2",23,angle=-90)

# Dot plots
def dots(xa, ya, clusters, genes, pct, expr):
    xs,ys,ss,cs = [],[],[],[]
    for g,rp,re in zip(genes,pct,expr):
        for c,p,e in zip(clusters,rp,re):
            xs.append(c); ys.append(g); ss.append(size_of(p)); cs.append(e)
    fig.add_trace(go.Scatter(x=xs,y=ys,mode="markers",xaxis=xa,yaxis=ya,cliponaxis=False,hoverinfo="skip",
        marker=dict(size=ss,color=cs,colorscale=expr_scale,cmin=EXPR_MIN,cmax=EXPR_MAX,line=dict(width=0),opacity=1,showscale=False)))

def dot_axes(n, dx, dy, genes, clusters, xr, ylen, standoff):
    layout["xaxis%d"%n] = dict(domain=dom_x(*dx),type="category",categoryorder="array",categoryarray=clusters,range=xr,visible=False,fixedrange=True)
    layout["yaxis%d"%n] = dict(domain=dom_y(*dy),type="category",categoryorder="array",categoryarray=genes,range=[ylen-.5,-.5],fixedrange=True,
        showgrid=False,zeroline=False,showline=False,ticks="outside",ticklen=standoff,tickcolor="rgba(0,0,0,0)",tickmode="linear",tick0=0,dtick=1,
        tickfont=dict(family=LIB,size=22,color="#1a1a1a"),anchor="x%d"%n,automargin=False)

dot_axes(6,(1036.5,1241.5),(747.2,1960.4),d_genes,d_clusters,[-.5,4.5],49,0)
dot_axes(7,(1433,1692),(746.9,2017),e_genes,e_clusters,[-.5,5.436],60,5)
dots("x6","y6",d_clusters,d_genes,d_pct,d_expr)
dots("x7","y7",e_clusters,e_genes,e_pct,e_expr)

d_top = [1056,1098,1139,1176,1222]; d_bot = [1049,1089,1133,1170,1214]
e_top = [1458,1500,1541,1586,1632,1669]; e_bot = [1448,1490,1534,1581,1625,1667]
for c,xt,xb in zip(d_clusters,d_top,d_bot):
    txt("paper","paper",xt/W,1-728/H,c,21,font=LIB); txt("paper","paper",xb/W,1-1985/H,c,22,font=LIB,color="#555")
for c,xt,xb in zip(e_clusters,e_top,e_bot):
    txt("paper","paper",xt/W,1-728/H,c,21,font=LIB); txt("paper","paper",xb/W,1-2042/H,c,22,font=LIB,color="#555")
txt("paper","paper",1115/W,1-640/H,"macrophage markers",25,font=LIB)
txt("paper","paper",1563/W,1-640/H,"DC markers",25,font=LIB)
txt("paper","paper",1127/W,1-693/H,"cluster",21,font=LIB)
txt("paper","paper",1567/W,1-694/H,"cluster",21,font=LIB)
for a,b in ((1038,1243),(1444,1692)):
    shapes.append(dict(type="line",xref="paper",yref="paper",x0=a/W,x1=b/W,y0=1-708/H,y1=1-708/H,line=dict(color="black",width=1.5)))
for xx,yy,t in ((12,18,"A"),(972,20,"C"),(9,648,"B"),(899,639,"D"),(1392,640,"E")):
    txt("paper","paper",xx/W,1-yy/H,t,30,font="Open Sans",color="black",bold=True)

# size legend
layout["xaxis8"] = dict(domain=dom_x(955.5,1128.5),visible=False,fixedrange=True,type="category",categoryorder="array",categoryarray=[str(p) for p in pct_legend],range=[-.5,3.5])
layout["yaxis8"] = dict(domain=dom_y(2050,2078),visible=False,fixedrange=True,range=[-1,1])
fig.add_trace(go.Scatter(x=[str(p) for p in pct_legend],y=[0]*4,mode="markers",marker=dict(size=[size_of(p) for p in pct_legend],color="black",opacity=1),xaxis="x8",yaxis="y8",cliponaxis=False,hoverinfo="skip"))
for p,xx in zip(pct_legend,[977,1020,1064,1107]):
    txt("paper","paper",xx/W,1-2087/H,str(p),19,font=LIB)
txt("paper","paper",1038/W,1-2035/H,"% Expressed",21,font=LIB)
txt("paper","paper",1215/W,1-2035/H,"Avg Expression",21,font=LIB)

# Avg expression scale bar as a one-row heatmap on its own value axis
scale_vals = [EXPR_MIN + i*.05 for i in range(69)]
layout["xaxis11"] = dict(domain=dom_x(1143,1287),range=[EXPR_MIN,EXPR_MAX],visible=False,fixedrange=True,anchor="y11")
layout["yaxis11"] = dict(domain=dom_y(2054.6,2079),visible=False,fixedrange=True)
fig.add_trace(go.Heatmap(z=[scale_vals],x=scale_vals,y=[0],colorscale=expr_scale,zmin=EXPR_MIN,zmax=EXPR_MAX,showscale=False,xaxis="x11",yaxis="y11",hoverinfo="skip"))
for v,t in zip(expr_ticks,expr_tick_text):
    shapes.append(dict(type="line",xref="x11",yref="paper",x0=v,x1=v,y0=1-2059/H,y1=1-2054.6/H,line=dict(color="white",width=1)))
    shapes.append(dict(type="line",xref="x11",yref="paper",x0=v,x1=v,y0=1-2079/H,y1=1-2074.6/H,line=dict(color="white",width=1)))
    annos.append(dict(xref="x11",yref="paper",x=v,y=1-2087/H,text=t,showarrow=False,font=dict(family=LIB,size=19,color="#1a1a1a"),xanchor="center",yanchor="middle"))

fig.update_layout(width=W,height=H,margin=dict(l=0,r=0,t=0,b=0),autosize=False,showlegend=False,
    paper_bgcolor="white",plot_bgcolor="rgba(0,0,0,0)",annotations=annos,shapes=shapes,**layout)
fig.write_html("out.html",post_script="document.body.style.margin='0';",config={"displayModeBar":False})
